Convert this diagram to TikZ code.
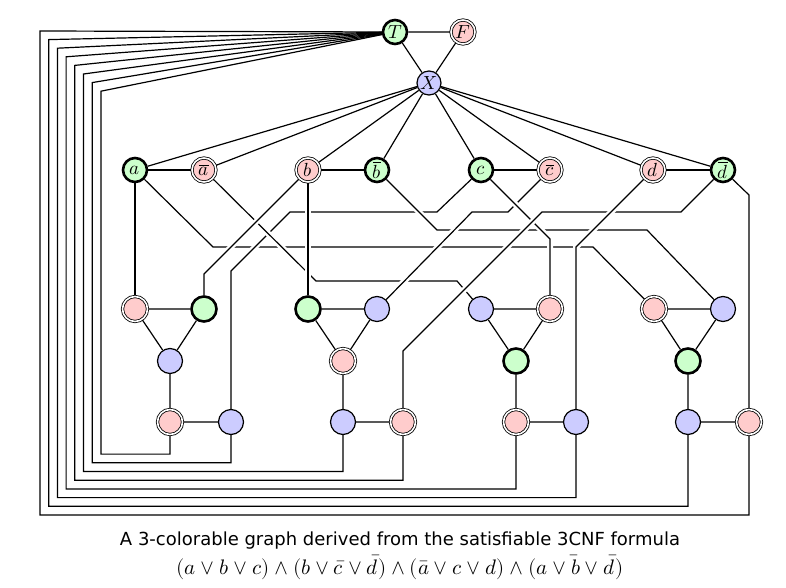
\documentclass[tikz,border=0pt]{standalone}
\usepackage{fontspec}
\usepackage{unicode-math}
\setmathfont{Latin Modern Math}
\setsansfont{DejaVu Sans}
\usetikzlibrary{positioning}
\definecolor{tgreen}{HTML}{CCFFCC}
\definecolor{fpink}{HTML}{FFCCCC}
\definecolor{xblue}{HTML}{CCCCFF}
\pgfdeclarelayer{wires}
\pgfsetlayers{wires,main}

\begin{document}
\begin{tikzpicture}[x=1pt, y=-1pt, line width=1.2pt,
  vtx/.style={circle, draw, minimum size=24pt, inner sep=0pt, font=\fontsize{19}{19}\selectfont},
  tvtx/.style={vtx, fill=tgreen, line width=2.6pt},
  fvtx/.style={vtx, fill=fpink, double, line width=0.8pt, double distance=1.6pt},
  xvtx/.style={vtx, fill=xblue, line width=1.2pt},
  gad/.style={minimum size=25pt},
  wire/.style={preaction={draw=white, line width=6pt}}]

\useasboundingbox (0,0) rectangle (786,588);

% Palette
\node[tvtx] (T) at (395,32) {$T$};
\node[fvtx] (F) at (463,32) {$F$};
\node[xvtx] (X) at (429,83) {$X$};

% Literals
\node[tvtx] (a)  at (135,170) {$a$};
\node[fvtx] (na) at (204,170) {$\overline{a}$};
\node[fvtx] (b)  at (308,170) {$b$};
\node[tvtx] (nb) at (377,170) {$\overline{b}$};
\node[tvtx] (c)  at (481,170) {$c$};
\node[fvtx] (nc) at (550,170) {$\overline{c}$};
\node[fvtx] (d)  at (653,170) {$d$};
\node[tvtx] (nd) at (723,170) {$\overline{d}$};

% Clause gadgets
\node[fvtx, gad] (g1tl) at (135,309) {};
\node[tvtx, gad] (g1tr) at (204,309) {};
\node[xvtx, gad] (g1m)  at (170,361) {};
\node[fvtx, gad] (g1bl) at (170,422) {};
\node[xvtx, gad] (g1br) at (231,422) {};

\node[tvtx, gad] (g2tl) at (308,309) {};
\node[xvtx, gad] (g2tr) at (377,309) {};
\node[fvtx, gad] (g2m)  at (343,361) {};
\node[xvtx, gad] (g2bl) at (343,422) {};
\node[fvtx, gad] (g2br) at (403,422) {};

\node[xvtx, gad] (g3tl) at (481,309) {};
\node[fvtx, gad] (g3tr) at (550,309) {};
\node[tvtx, gad] (g3m)  at (516,361) {};
\node[fvtx, gad] (g3bl) at (516,422) {};
\node[xvtx, gad] (g3br) at (576,422) {};

\node[fvtx, gad] (g4tl) at (654,309) {};
\node[xvtx, gad] (g4tr) at (723,309) {};
\node[tvtx, gad] (g4m)  at (688,361) {};
\node[xvtx, gad] (g4bl) at (688,422) {};
\node[fvtx, gad] (g4br) at (749,422) {};

\begin{pgfonlayer}{wires}
\begin{scope}[line width=1.2pt]
% Literal wires into the gadgets (later ones pass over earlier ones)
\draw[wire] (a) -- (213,247) -- (593,247) -- (g4tl);
\draw[wire] (c) -- (437,212) -- (290,212) -- (231,271) -- (g1br);
\draw[wire] (nb) -- (437,230) -- (647,230) -- (g4tr);
\draw[wire] (na) -- (316,281) -- (457,281) -- (g3tl);
\draw[wire] (b) -- (204,274) -- (g1tr);
\draw[wire] (b) -- (g2tl);
\draw[wire] (nc) -- (508,212) -- (472,212) -- (g2tr);
\draw[wire] (c) -- (550,239) -- (g3tr);
\draw[wire] (nd) -- (681,212) -- (542,212) -- (403,351) -- (g2br);
\draw[wire] (d) -- (576,247) -- (g3br);
\draw[wire] (a) -- (g1tl);
\draw[wire] (nd) -- (749,195) -- (g4br);

% Palette triangle, spokes and literal pairs
\draw (T) -- (F) -- (X) -- (T);
\foreach \v in {a,na,b,nb,c,nc,d,nd} \draw (X) -- (\v);
\draw (a) -- (na) (b) -- (nb) (c) -- (nc) (d) -- (nd);

% Gadget triangles and tails
\foreach \g in {g1,g2,g3,g4}
  \draw (\g tl) -- (\g tr) -- (\g m) -- (\g tl) (\g m) -- (\g bl) -- (\g br);

% Loops from T round to the gadget tails
\foreach \v [count=\i from 0] in {g4br,g4bl,g3br,g3bl,g2br,g2bl,g1br,g1bl}
  \draw (T.center) -- ({40+8.7*\i},{31+8.6*\i}) -- ({40+8.7*\i},{515-8.7*\i}) -| (\v);
\end{scope}
\end{pgfonlayer}

% Caption
\node[font=\sffamily\fontsize{18}{18}\selectfont, anchor=base] (cap) at (400,545)
  {A 3-colorable graph derived from the satisfiable 3CNF formula};
\node[font=\fontsize{21}{21}\selectfont, anchor=base] (formula) at (400,574)
  {$(a\vee b\vee c)\wedge(b\vee\bar c\vee\bar d)\wedge(\bar a\vee c\vee d)\wedge(a\vee\bar b\vee\bar d)$};

\end{tikzpicture}
\end{document}
